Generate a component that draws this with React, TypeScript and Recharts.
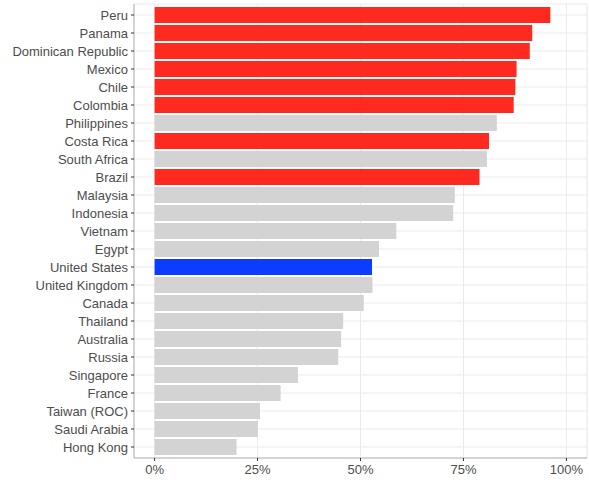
import { BarChart, Bar, XAxis, YAxis, CartesianGrid, Cell } from "recharts";

const countries = [
    "Peru", "Panama", "Dominican Republic", "Mexico", "Chile", "Colombia",
    "Philippines", "Costa Rica", "South Africa", "Brazil", "Malaysia", "Indonesia",
    "Vietnam", "Egypt", "United States", "United Kingdom", "Canada", "Thailand",
    "Australia", "Russia", "Singapore", "France", "Taiwan (ROC)", "Saudi Arabia", "Hong Kong",
];
const shares = [
    96.1, 91.7, 91.1, 87.9, 87.6, 87.2,
    83.1, 81.2, 80.7, 78.9, 72.9, 72.5,
    58.7, 54.5, 52.8, 52.9, 50.8, 45.8,
    45.3, 44.6, 34.8, 30.6, 25.6, 25.1, 19.9,
];
// "latam" = red, "us" = blue, everything else grey
const groups = [
    "latam", "latam", "latam", "latam", "latam", "latam",
    "other", "latam", "other", "latam", "other", "other",
    "other", "other", "us", "other", "other", "other",
    "other", "other", "other", "other", "other", "other", "other",
];
const xTicks = [0, 25, 50, 75, 100];
const minorTicks = [12.5, 37.5, 62.5, 87.5];

const COLORS: any = { latam: "#ff2a1f", us: "#0a3dff", other: "#d3d3d3" };

const data = countries.map((c, i) => ({ country: c, value: shares[i], group: groups[i] }));

const font = "'Liberation Sans', Arial, Helvetica, sans-serif";
const border = "#b3b3b3";

export default function App() {
    return (
        <div style={{ position: "absolute", left: 0, top: 0, background: "#fff" }}>
            <BarChart
                width={589}
                height={483}
                data={data}
                layout="vertical"
                margin={{ top: 4, right: 2, bottom: 0, left: 0 }}
                barCategoryGap="5%"
            >
                {/* minor grid first, then major */}
                <CartesianGrid xAxisId="minor" horizontal={false} stroke="#f4f4f4" />
                <CartesianGrid stroke="#ebebeb" />
                <XAxis
                    type="number"
                    domain={[-5, 105]}
                    ticks={xTicks}
                    allowDataOverflow
                    height={25}
                    tickFormatter={(v: number) => v + "%"}
                    tick={{ fill: "#4d4d4d", fontSize: 13, fontFamily: font }}
                    tickSize={3}
                    tickMargin={4}
                    axisLine={{ stroke: border }}
                    tickLine={{ stroke: "#333" }}
                />
                <XAxis
                    xAxisId="minor"
                    orientation="top"
                    type="number"
                    domain={[-5, 105]}
                    ticks={minorTicks}
                    allowDataOverflow
                    height={0}
                    tick={false}
                    tickLine={false}
                    axisLine={{ stroke: border }}
                />
                <YAxis
                    type="category"
                    dataKey="country"
                    width={134}
                    interval={0}
                    padding={{ top: 2, bottom: 2 }}
                    tick={{ fill: "#4d4d4d", fontSize: 13, fontFamily: font }}
                    tickSize={3}
                    tickMargin={3}
                    axisLine={{ stroke: border }}
                    tickLine={{ stroke: "#333" }}
                />
                <YAxis
                    yAxisId="right"
                    orientation="right"
                    type="category"
                    dataKey="country"
                    width={0}
                    tick={false}
                    tickLine={false}
                    axisLine={{ stroke: border }}
                />
                <Bar dataKey="value" isAnimationActive={false}>
                    {data.map((d, i) => (
                        <Cell key={i} fill={COLORS[d.group]} />
                    ))}
                </Bar>
            </BarChart>
        </div>
    );
}
